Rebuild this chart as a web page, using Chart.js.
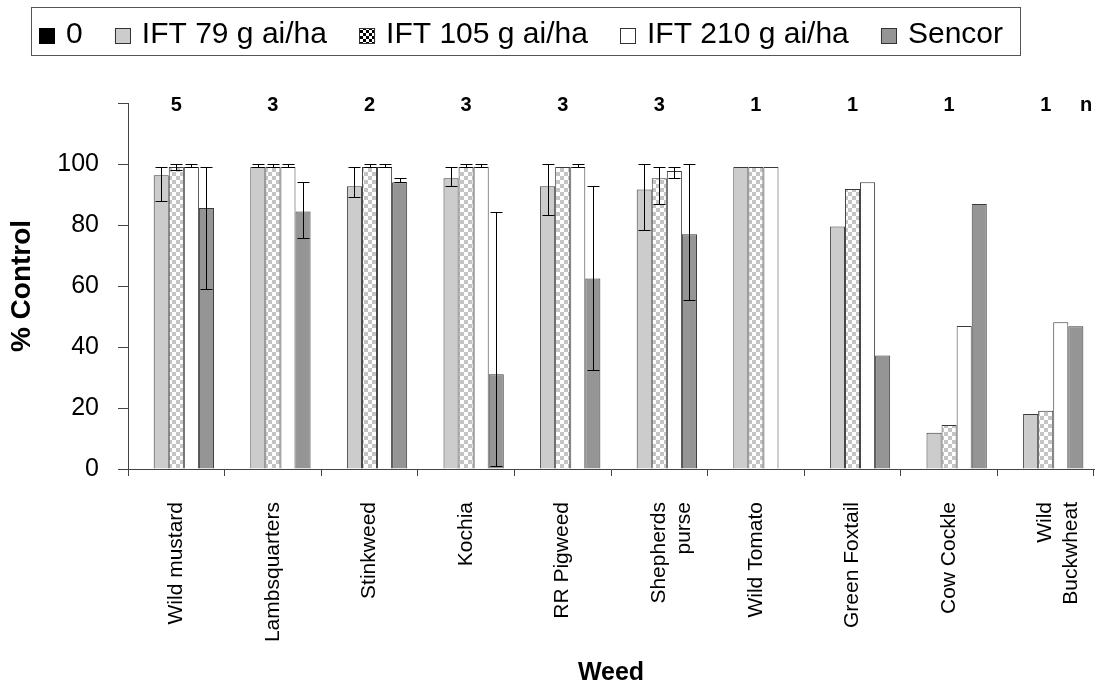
<!DOCTYPE html>
<html>
<head>
<meta charset="utf-8">
<script src="https://cdn.jsdelivr.net/npm/chart.js"></script>
<style>
	body { margin: 0; background: #fff; }
	canvas { display: block; }
</style>
</head>
<body>
<canvas id="canvas0" width="1099" height="688"></canvas>
<script>
// Weeds and number of trials (n)
var weeds = ['Wild mustard', 'Lambsquarters', 'Stinkweed', 'Kochia', 'RR Pigweed', ['Shepherds', 'purse'], 'Wild Tomato', 'Green Foxtail', 'Cow Cockle', ['Wild', 'Buckwheat']];
var nTrials = [5, 3, 2, 3, 3, 3, 1, 1, 1, 1];

// % control per treatment
var zeroRate = [null, null, null, null, null, null, null, null, null, null];
var ift79 = [96.3, 99, 92.7, 95.3, 92.7, 91.6, 99, 79.5, 11.9, 18];
var ift105 = [99, 99, 99, 99, 99, 95.3, 99, 91.8, 14.4, 19.1];
var ift210 = [99, 99, 99, 99, 99, 97.7, 99, 94, 46.9, 48.1];
var sencor = [85.6, 84.4, 94, 31.1, 62.5, 77, null, 37.2, 86.9, 46.8];

// error bar ranges (low / high)
var ift79Lo = [88, 99, 89.2, 92.7, 83.2, 78.2, null, null, null, null];
var ift79Hi = [98.9, 100, 98.9, 98.9, 100, 100, null, null, null, null];
var ift105Lo = [98, 99, 99, 99, null, 86.8, null, null, null, null];
var ift105Hi = [100, 100, 100, 100, null, 98.9, null, null, null, null];
var ift210Lo = [99, 99, 99, 99, 99, 95.3, null, null, null, null];
var ift210Hi = [100, 100, 100, 100, 100, 98.9, null, null, null, null];
var sencorLo = [59, 75.8, 94, 0.9, 32.3, 55.4, null, null, null, null];
var sencorHi = [98.9, 94, 95.3, 84.3, 92.7, 100, null, null, null, null];

var yTicksMax = 120, yTicksStep = 20;

var FONT = "'Liberation Sans', Arial, sans-serif";

// Checkered fill for the 105 g rate
function makeChecker(c1, c2, sz) {
	let cv = document.createElement('canvas');
	cv.width = sz * 2;
	cv.height = sz * 2;
	let cx = cv.getContext('2d');
	cx.fillStyle = c2;
	cx.fillRect(0, 0, sz * 2, sz * 2);
	cx.fillStyle = c1;
	cx.fillRect(0, 0, sz, sz);
	cx.fillRect(sz, sz, sz, sz);
	return cx.createPattern(cv, 'repeat');
}
var ctx = document.getElementById('canvas0').getContext('2d');
var checker = makeChecker('#c4c4c4', '#ffffff', 4);
var checkerIcon = makeChecker('#000000', '#ffffff', 3);

// Error bars drawn from the y scale
var errorBars = {
	id: 'errorBars',
	afterDatasetsDraw(chart) {
		let y = chart.scales.y;
		let c = chart.ctx;
		c.save();
		c.strokeStyle = '#000';
		c.lineWidth = 1;
		chart.data.datasets.forEach((ds, di) => {
			if(!ds.errLo)
				return;
			let meta = chart.getDatasetMeta(di);
			ds.errLo.forEach((lo, i) => {
				let hi = ds.errHi[i];
				if(lo === null || hi === null)
					return;
				let x = Math.round(meta.data[i].x) + 0.5;
				let y1 = Math.round(y.getPixelForValue(lo)) + 0.5;
				let y2 = Math.round(y.getPixelForValue(hi)) + 0.5;
				c.beginPath();
				c.moveTo(x, y1); c.lineTo(x, y2);
				c.moveTo(x - 6, y1); c.lineTo(x + 6, y1);
				c.moveTo(x - 6, y2); c.lineTo(x + 6, y2);
				c.stroke();
			});
		});
		c.restore();
	}
};

// n labels above each weed
var nLabels = {
	id: 'nLabels',
	afterDraw(chart) {
		let x = chart.scales.x, y = chart.scales.y;
		let c = chart.ctx;
		c.save();
		c.fillStyle = '#000';
		c.font = 'bold 20px ' + FONT;
		c.textAlign = 'center';
		c.textBaseline = 'middle';
		let top = y.getPixelForValue(yTicksMax) + 2;
		nTrials.forEach((n, i) => {
			c.fillText(String(n), x.getPixelForValue(i), top);
		});
		c.fillText('n', x.right - 8, top);
		c.restore();
	}
};

// Boxed legend across the top
var boxLegend = {
	id: 'boxLegend',
	afterDraw(chart) {
		let c = chart.ctx;
		let boxL = 31.5, boxW = 989, startX = 39, endX = 1003;
		let iconSize = 16, iconGap = 11, midY = 35;
		c.save();
		c.fillStyle = '#fff';
		c.fillRect(boxL, 7.5, boxW, 48);
		c.strokeStyle = '#555';
		c.lineWidth = 1;
		c.strokeRect(boxL, 7.5, boxW, 48);
		c.font = '30px ' + FONT;
		c.textBaseline = 'middle';
		let sets = chart.data.datasets;
		let used = 0;
		sets.forEach(ds => { used += iconSize + iconGap + c.measureText(ds.label).width; });
		let gap = (endX - startX - used) / (sets.length - 1);
		let xPos = startX;
		sets.forEach(ds => {
			c.fillStyle = ds.legendFill;
			c.fillRect(xPos, midY - iconSize / 2 + 1, iconSize, iconSize);
			if(ds.legendBorder) {
				c.strokeStyle = '#333';
				c.strokeRect(Math.round(xPos) + 0.5, midY - iconSize / 2 + 1.5, iconSize - 1, iconSize - 1);
			}
			xPos += iconSize + iconGap;
			c.fillStyle = '#000';
			c.fillText(ds.label, xPos, midY);
			xPos += c.measureText(ds.label).width + gap;
		});
		c.restore();
	}
};

function barSet(label, data, fill, legendFill, border, lo, hi) {
	return {
		label: label,
		data: data,
		backgroundColor: fill,
		borderColor: '#3a3a3a',
		borderWidth: 1,
		legendFill: legendFill,
		legendBorder: border,
		errLo: lo,
		errHi: hi
	};
}

var chartJsOptions = {
	type: 'bar',
	data: {
		labels: weeds,
		datasets: [
			barSet('0', zeroRate, '#000000', '#000000', false, null, null),
			barSet('IFT 79 g ai/ha', ift79, '#cccccc', '#cccccc', true, ift79Lo, ift79Hi),
			barSet('IFT 105 g ai/ha', ift105, checker, checkerIcon, true, ift105Lo, ift105Hi),
			barSet('IFT 210 g ai/ha', ift210, '#ffffff', '#ffffff', true, ift210Lo, ift210Hi),
			barSet('Sencor', sencor, '#959595', '#959595', true, sencorLo, sencorHi)
		]
	},
	options: {
		responsive: false,
		animation: false,
		layout: {
			padding: { top: 103, right: 5, left: 0, bottom: 0 }
		},
		datasets: {
			bar: {
				categoryPercentage: 0.78,
				barPercentage: 1.0
			}
		},
		scales: {
			x: {
				grid: {
					offset: true,
					drawOnChartArea: false,
					tickLength: 7,
					color: '#444'
				},
				border: { color: '#444', width: 1 },
				ticks: {
					autoSkip: false,
					minRotation: 90,
					maxRotation: 90,
					padding: 26,
					color: '#000',
					font: { family: FONT, size: 21 }
				},
				title: {
					display: true,
					text: 'Weed',
					color: '#000',
					font: { family: FONT, size: 25, weight: 'bold' },
					padding: { top: 1, bottom: 0 }
				},
				afterFit: function(scale) {
					scale.height = 219;
					scale.paddingLeft = 0;
					scale.paddingRight = 0;
				}
			},
			y: {
				min: 0,
				max: yTicksMax,
				grid: {
					drawOnChartArea: false,
					tickLength: 10,
					color: '#444'
				},
				border: { color: '#444', width: 1 },
				ticks: {
					stepSize: yTicksStep,
					padding: 19,
					color: '#000',
					font: { family: FONT, size: 25 },
					callback: function(v) { return v === yTicksMax ? '' : v; }
				},
				title: {
					display: true,
					text: '% Control',
					color: '#000',
					font: { family: FONT, size: 28, weight: 'bold' },
					padding: { top: 5, bottom: 0 }
				},
				afterFit: function(scale) { scale.width = 128; }
			}
		},
		plugins: {
			legend: { display: false },
			tooltip: { enabled: false }
		}
	},
	plugins: [errorBars, nLabels, boxLegend]
};

var weedChart = new Chart(ctx, chartJsOptions);
</script>
</body>
</html>
